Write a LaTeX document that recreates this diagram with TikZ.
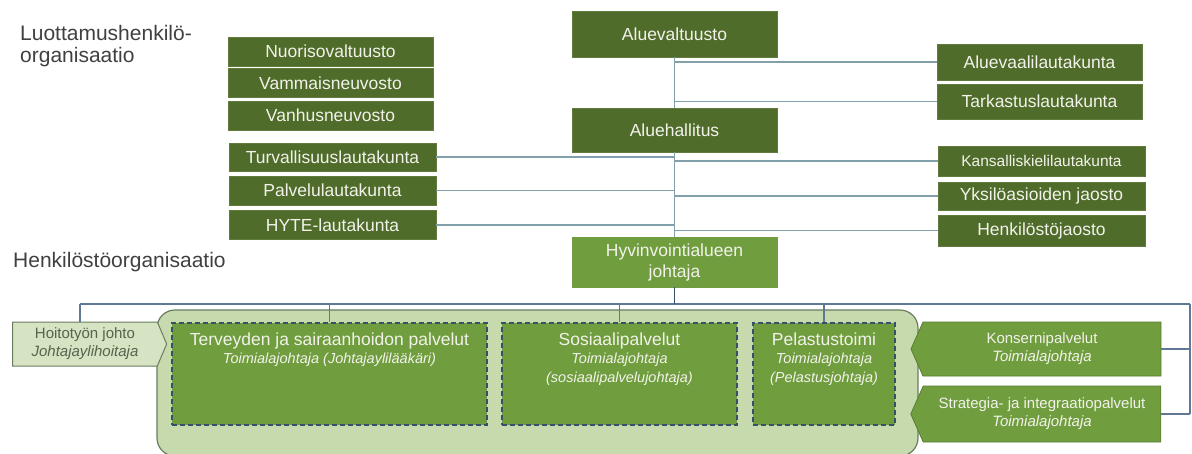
\documentclass[tikz,border=0pt]{standalone}
\usepackage{fontspec}
\setmainfont{Liberation Sans}
\usetikzlibrary{shapes.symbols,calc}
\definecolor{dkgreen}{RGB}{79,108,42}
\definecolor{mdgreen}{RGB}{112,158,62}
\definecolor{ltgreen}{RGB}{198,218,174}
\definecolor{paleg}{RGB}{214,228,196}
\definecolor{linec}{RGB}{130,160,172}
\definecolor{busc}{RGB}{95,120,150}
\definecolor{navyc}{RGB}{55,80,105}
\definecolor{headc}{RGB}{64,64,64}
\definecolor{boxtxt}{RGB}{242,242,235}
\definecolor{bigborder}{RGB}{105,125,95}
\tikzset{
  dbox/.style={fill=dkgreen, draw=dkgreen!90!white, text=boxtxt, inner sep=0pt,
    font=\fontsize{17.5}{21}\selectfont, align=center},
  mbox/.style={dbox, fill=mdgreen, draw=mdgreen},
  conn/.style={draw=linec, line width=1.2pt},
  busline/.style={draw=busc, line width=1.2pt},
  dropline/.style={draw=navyc, line width=1.4pt},
  dashbox/.style={fill=mdgreen, draw=navyc, dash pattern=on 5pt off 3pt, line width=1.6pt, inner sep=0pt},
  boxtitle/.style={anchor=north, inner sep=0pt, text=boxtxt, align=center,
    font=\fontsize{14.5}{18.5}\selectfont\itshape},
  heading/.style={text=headc, inner sep=0pt, align=left, font=\fontsize{21}{22}\selectfont},
  arrowL/.style={signal, signal to=west, signal pointer angle=132, fill=mdgreen,
    draw=mdgreen!80!black, line width=0.8pt, text=boxtxt, inner sep=0pt, align=center,
    font=\fontsize{15}{18}\selectfont},
}
\begin{document}
\begin{tikzpicture}[x=1pt,y=-1pt]
\useasboundingbox (0,0) rectangle (1192,453);
% headings
\node[heading, anchor=north west] (hd1) at (20,25) {Luottamushenkilö-\\organisaatio};
\node[heading, anchor=base west] (hd2) at (13,267) {Henkilöstöorganisaatio};

% central column
\node[dbox, minimum width=205pt, minimum height=46pt] (av) at (674.5,34) {Aluevaltuusto};
\node[dbox, minimum width=205pt, minimum height=44pt] (ah) at (674.5,130) {Aluehallitus};
\node[mbox, minimum width=205pt, minimum height=50pt] (hj) at (674.5,262) {Hyvinvointialueen\\johtaja};

% left column
\node[dbox, minimum width=205pt, minimum height=29pt] (nuo) at (330.5,51.5) {Nuorisovaltuusto};
\node[dbox, minimum width=205pt, minimum height=29pt] (vam) at (330.5,83) {Vammaisneuvosto};
\node[dbox, minimum width=205pt, minimum height=29pt] (van) at (330.5,115.5) {Vanhusneuvosto};
\node[dbox, minimum width=207pt, minimum height=28pt] (tur) at (332.5,157) {Turvallisuuslautakunta};
\node[dbox, minimum width=207pt, minimum height=29pt] (pal) at (332.5,190.5) {Palvelulautakunta};
\node[dbox, minimum width=207pt, minimum height=29pt] (hyte) at (332.5,225) {HYTE-lautakunta};

% right column
\node[dbox, minimum width=205pt, minimum height=36pt] (avl) at (1039.5,62) {Aluevaalilautakunta};
\node[dbox, minimum width=205pt, minimum height=35pt] (tar) at (1039.5,101.5) {Tarkastuslautakunta};
\node[dbox, minimum width=207pt, minimum height=30pt, font=\fontsize{15.5}{18}\selectfont] (kan) at (1041.5,161) {Kansalliskielilautakunta};
\node[dbox, minimum width=207pt, minimum height=28pt] (yks) at (1041.5,196) {Yksilöasioiden jaosto};
\node[dbox, minimum width=207pt, minimum height=31pt] (hen) at (1041.5,230.5) {Henkilöstöjaosto};

% connectors top
\draw[conn] (av.south) -- (ah.north);
\draw[conn] (ah.south) -- (hj.north);
\draw[conn] (av.south |- avl.west) -- (avl.west);
\draw[conn] (av.south |- tar.west) -- (tar.west);
\draw[conn] (tur.east) -- (ah.south |- tur.east);
\draw[conn] (pal.east) -- (ah.south |- pal.east);
\draw[conn] (hyte.east) -- (ah.south |- hyte.east);
\draw[conn] (ah.south |- kan.west) -- (kan.west);
\draw[conn] (ah.south |- yks.west) -- (yks.west);
\draw[conn] (ah.south |- hen.west) -- (hen.west);

% big rounded container
\node[fill=ltgreen, draw=bigborder, line width=1.2pt, rounded corners=18pt,
      minimum width=761pt, minimum height=146pt, inner sep=0pt] (big) at (537.5,383) {};

% dashed boxes
\node[dashbox, minimum width=315pt, minimum height=102pt] (tv) at (329.5,374) {};
\node[dashbox, minimum width=235pt, minimum height=102pt] (so) at (619.5,374) {};
\node[dashbox, minimum width=142pt, minimum height=102pt] (pe) at (824,374) {};
\node[boxtitle] (tvt) at ($(tv.north)+(0,10)$) {{\upshape\fontsize{17.5}{20}\selectfont Terveyden ja sairaanhoidon palvelut}\\Toimialajohtaja (Johtajaylilääkäri)};
\node[boxtitle] (sot) at ($(so.north)+(0,10)$) {{\upshape\fontsize{17.5}{20}\selectfont Sosiaalipalvelut}\\Toimialajohtaja\\(sosiaalipalvelujohtaja)};
\node[boxtitle] (pet) at ($(pe.north)+(0,10)$) {{\upshape\fontsize{17.5}{20}\selectfont Pelastustoimi}\\Toimialajohtaja\\(Pelastusjohtaja)};

% side arrows
\node[signal, signal to=east, signal pointer angle=134, fill=paleg, draw=bigborder,
      line width=1pt, text={rgb,255:red,85;green,100;blue,75}, inner sep=0pt, align=center,
      font=\fontsize{15}{18}\selectfont, minimum width=154pt, minimum height=44pt] (hoit) at (85,344)
      {Hoitotyön johto\\\textit{Johtajaylihoitaja}};
\node[arrowL, minimum width=250pt, minimum height=54pt] (kon) at (1042,349) {Konsernipalvelut\\\textit{Toimialajohtaja}};
\node[arrowL, minimum width=250pt, minimum height=56pt] (str) at (1042,414) {Strategia- ja integraatiopalvelut\\\textit{Toimialajohtaja}};

% bottom connectors
\coordinate (busL) at (80,304);
\coordinate (busR) at (1190,304);
\draw[busline] (busL) -- (busR);
\draw[busline] (busL) -- (busL |- hoit.north);
\draw[dropline] (hj.south) -- (hj.south |- busL);
\draw[busline] (tv.north |- busL) -- (tv.north);
\draw[busline] (so.north |- busL) -- (so.north);
\draw[busline] (pe.north |- busL) -- (pe.north);
\draw[busline] (busR) -- (busR |- str.east);
\draw[busline] (kon.east) -- (busR |- kon.east);
\draw[busline] (str.east) -- (busR |- str.east);
\end{tikzpicture}
\end{document}
